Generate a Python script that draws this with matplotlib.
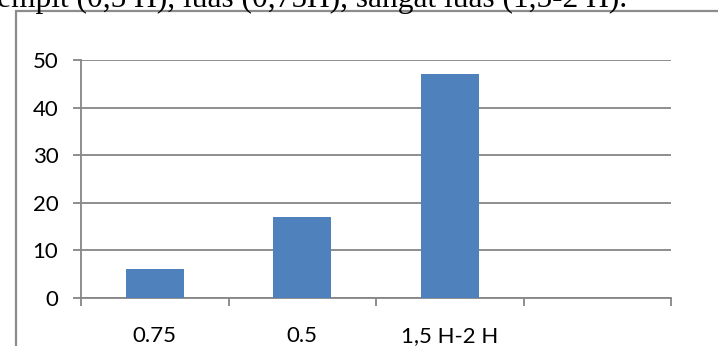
import numpy as np
import matplotlib
matplotlib.use('Agg')
import matplotlib.pyplot as plt
from matplotlib.patches import Rectangle

# data
categories = ['0.75', '0.5', '1,5 H-2 H', '']
values = [6, 17, 47, np.nan]
y_ticks = [0, 10, 20, 30, 40, 50]
caption = 'sempit (0,5 H), luas (0,75H), sangat luas (1,5-2 H).'

BAR_COLOUR = '#4F81BD'
GRID_COLOUR = '#868686'

W, H = 718, 346
fig = plt.figure(figsize=(W / 100, H / 100), dpi=100)
ax = fig.add_axes([81 / W, 1 - 298 / H, (671 - 81) / W, (298 - 60) / H])

x = np.arange(len(categories))
ax.bar(x, values, width=0.39, color=BAR_COLOUR, zorder=3)

ax.set_xlim(-0.5, len(categories) - 0.5)
ax.set_ylim(0, 50)
ax.set_yticks(y_ticks)
ax.set_xticks(x)
ax.set_xticklabels(categories)
ax.set_xticks(np.arange(len(categories) + 1) - 0.5, minor=True)

font = 'Lato'
ax.tick_params(axis='x', which='major', length=0, pad=20, labelsize=16,
               labelcolor='#000000')
ax.tick_params(axis='x', which='minor', length=6, width=1.3, color=GRID_COLOUR,
               direction='out')
ax.tick_params(axis='y', length=5.8, width=1.3, color=GRID_COLOUR, pad=10.5,
               labelsize=16)
for lbl in ax.get_xticklabels() + ax.get_yticklabels():
    lbl.set_fontfamily(font)

ax.grid(axis='y', color=GRID_COLOUR, lw=1.3, zorder=0)
for s in ['top', 'right']:
    ax.spines[s].set_visible(False)
for s in ['left', 'bottom']:
    ax.spines[s].set_color(GRID_COLOUR)
    ax.spines[s].set_linewidth(1.3)

# chart frame, cut by the page edge
fig.add_artist(Rectangle((16 / W, -0.1), 1.2, 1 - 11 / H + 0.1,
                         transform=fig.transFigure, fill=False,
                         edgecolor='#8C8C8C', lw=1.6))

# the line of text above the chart, cut at the top like in the source
fig.text(627 / W, 1 - 7 / H, caption, ha='right', va='baseline',
         fontsize=22.6, family='Liberation Serif')

plt.savefig('out.png', dpi=100)
